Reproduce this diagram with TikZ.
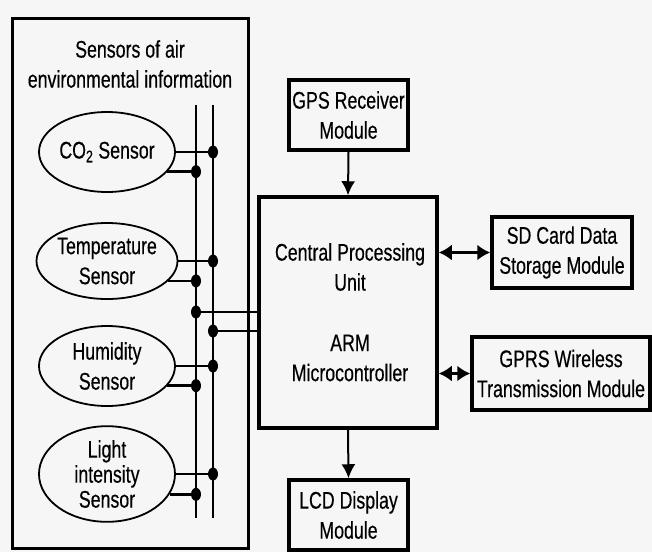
\documentclass[tikz,border=0pt]{standalone}
\usepackage{fontspec}
\setmainfont{Liberation Sans}[FakeStretch=0.74,FakeBold=0.4]
\usetikzlibrary{arrows.meta,shapes.geometric,calc}
\definecolor{bg}{RGB}{246,246,246}
\begin{document}
\begin{tikzpicture}[x=1pt,y=-1pt,
  txt/.style={font=\fontsize{24}{30}\selectfont, align=center, inner sep=0},
  blk/.style={draw, line width=3.5pt, inner sep=0, txt},
  sens/.style={ellipse, draw, line width=1.8pt, minimum width=136pt, inner sep=0, fill=bg, txt},
  bus/.style={line width=2.4pt},
  jdot/.style={ellipse, fill, inner sep=0, minimum width=10pt, minimum height=13pt},
  arr/.style={line width=2pt, -{Latex[length=14pt,width=14pt]}},
  darr/.style={line width=2.4pt, {Latex[length=13pt,width=16pt]}-{Latex[length=13pt,width=16pt]}}]
\fill[bg] (0,0) rectangle (652,552);
\useasboundingbox (0,0) rectangle (652,552);
% outer box
\node[draw, line width=3pt, minimum width=236pt, minimum height=530pt, inner sep=0] (outer) at (130,283) {};
\node[txt] (title) at (130,64) {Sensors of air\\environmental information};
% bus lines
\coordinate (bLt) at (196,105); \coordinate (bLb) at (196,518);
\coordinate (bRt) at (213,105); \coordinate (bRb) at (213,518);
\draw[bus] (bLt) -- (bLb);
\draw[bus] (bRt) -- (bRb);
% sensors
\node[sens, minimum height=80pt] (co2) at (107,152) {CO\textsubscript{2} Sensor};
\node[sens, minimum height=76pt] (temp) at (107,261) {Temperature\\Sensor};
\node[sens, minimum height=80pt] (hum) at (107,366) {Humidity\\Sensor};
\node[sens, minimum height=86pt, font=\fontsize{24}{25}\selectfont] (light) at (107,474) {Light\\intensity\\Sensor};
\foreach \s in {co2,temp,hum,light}{
  \draw[bus] (\s.east) -- (\s.east -| bRt) node[jdot] {};
  \draw[bus] (\s.-18) -- (\s.-18 -| bLt) node[jdot] {};
}
% main blocks
\node[blk, minimum width=178pt, minimum height=231pt] (cpu) at (348,312.5) {};
\node[txt] (cpu1) at (350,267) {Central Processing\\Unit};
\node[txt] (cpu2) at (350,358) {ARM\\Microcontroller};
\node[blk, minimum width=119pt, minimum height=70pt] (gps) at (348.5,115) {GPS Receiver\\Module};
\node[blk, minimum width=140pt, minimum height=71pt] (sd) at (562,252.5) {SD Card Data\\Storage Module};
\node[blk, minimum width=178pt, minimum height=73pt] (gprs) at (561,373.5) {GPRS Wireless\\Transmission Module};
\node[blk, minimum width=119pt, minimum height=70pt] (lcd) at (348.5,515) {LCD Display\\Module};
% bus to cpu
\coordinate (j1) at (196,312); \coordinate (j2) at (213,331);
\draw[bus] (j1) -- (j1 -| cpu.west);
\draw[bus] (j2) -- (j2 -| cpu.west);
\node[jdot] (d1) at (j1) {};
\node[jdot] (d2) at (j2) {};
% arrows
\draw[arr] (gps.south) -- (cpu.north);
\draw[arr] (cpu.south) -- (lcd.north);
\draw[darr] (sd.west -| cpu.east) -- (sd.west);
\draw[darr] (gprs.west -| cpu.east) -- (gprs.west);
\end{tikzpicture}
\end{document}
